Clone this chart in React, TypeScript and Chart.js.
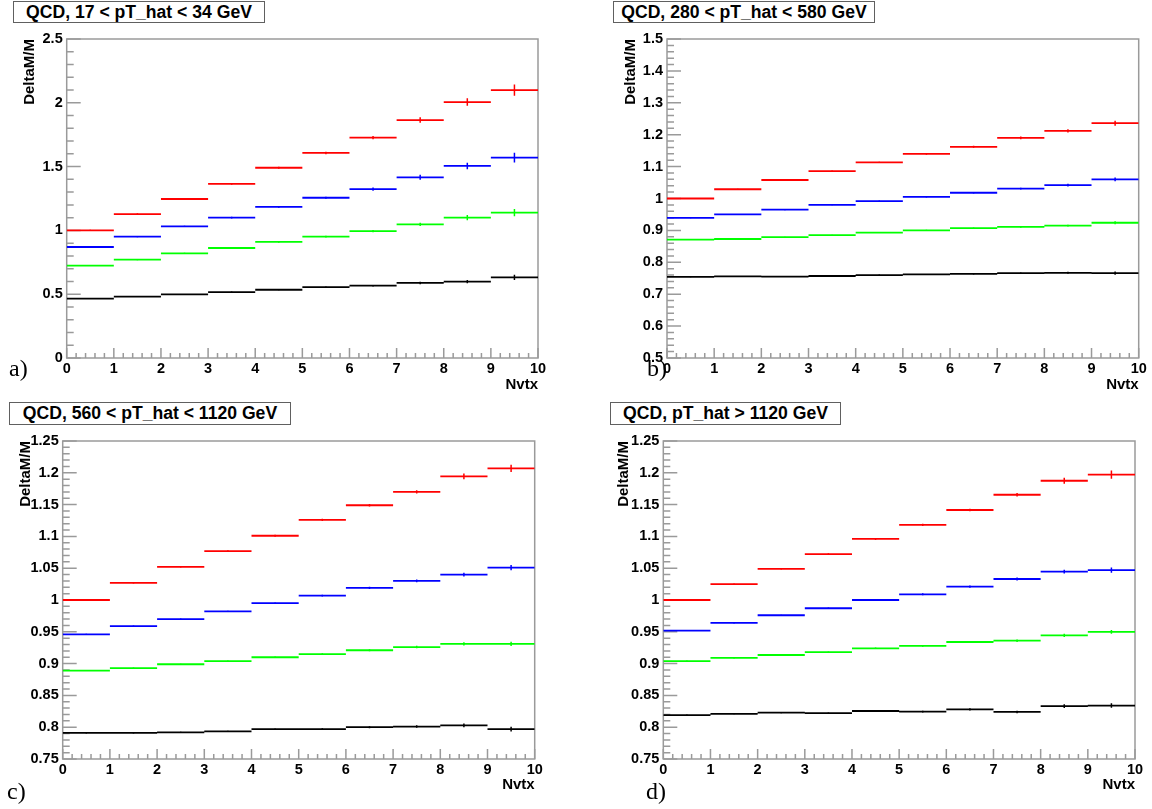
import React, { useEffect, useRef } from "react";
import { Chart, registerables } from "chart.js";

Chart.register(...registerables);

// ---------- data ----------
const BIN_EDGES = [0, 1, 2, 3, 4, 5, 6, 7, 8, 9, 10];
const X_AXIS_TITLE = "Nvtx";
const Y_AXIS_TITLE = "DeltaM/M";
const PANEL_TITLES = [
  "QCD, 17 < pT_hat < 34 GeV",
  "QCD, 280 < pT_hat < 580 GeV",
  "QCD, 560 < pT_hat < 1120 GeV",
  "QCD, pT_hat > 1120 GeV",
];
const PANEL_LETTERS = ["a)", "b)", "c)", "d)"];

// panel a: 17 < pT_hat < 34 GeV
const A_RED = [1.0, 1.128, 1.246, 1.364, 1.491, 1.607, 1.727, 1.865, 2.006, 2.1];
const A_BLUE = [0.87, 0.951, 1.032, 1.1, 1.185, 1.256, 1.324, 1.416, 1.505, 1.57];
const A_GREEN = [0.724, 0.771, 0.82, 0.862, 0.91, 0.951, 0.995, 1.047, 1.1, 1.139];
const A_BLACK = [0.465, 0.481, 0.499, 0.517, 0.535, 0.556, 0.567, 0.588, 0.598, 0.632];
const A_RED_ERR = [0.005, 0.006, 0.006, 0.007, 0.008, 0.01, 0.013, 0.022, 0.029, 0.044];
const A_BLUE_ERR = [0.004, 0.005, 0.005, 0.006, 0.007, 0.008, 0.013, 0.02, 0.026, 0.038];
const A_GREEN_ERR = [0.003, 0.004, 0.004, 0.005, 0.006, 0.007, 0.009, 0.013, 0.021, 0.029];
const A_BLACK_ERR = [0.003, 0.003, 0.003, 0.004, 0.004, 0.005, 0.006, 0.01, 0.013, 0.02];

// panel b: 280 < pT_hat < 580 GeV
const B_RED = [1.0, 1.029, 1.058, 1.086, 1.113, 1.14, 1.162, 1.19, 1.212, 1.236];
const B_BLUE = [0.939, 0.95, 0.965, 0.98, 0.992, 1.005, 1.018, 1.031, 1.042, 1.06];
const B_GREEN = [0.871, 0.873, 0.879, 0.885, 0.893, 0.9, 0.907, 0.911, 0.915, 0.924];
const B_BLACK = [0.754, 0.756, 0.755, 0.757, 0.76, 0.762, 0.764, 0.766, 0.767, 0.766];
const B_RED_ERR = [0.001, 0.0015, 0.0015, 0.002, 0.002, 0.0025, 0.003, 0.004, 0.005, 0.008];
const B_BLUE_ERR = [0.001, 0.001, 0.0015, 0.0015, 0.002, 0.002, 0.0025, 0.003, 0.004, 0.006];
const B_GREEN_ERR = [0.001, 0.001, 0.001, 0.0015, 0.0015, 0.002, 0.002, 0.003, 0.003, 0.005];
const B_BLACK_ERR = [0.001, 0.001, 0.001, 0.001, 0.0015, 0.0015, 0.002, 0.002, 0.003, 0.005];

// panel c: 560 < pT_hat < 1120 GeV
const C_RED = [1.0, 1.027, 1.052, 1.077, 1.101, 1.126, 1.149, 1.17, 1.1945, 1.207];
const C_BLUE = [0.946, 0.959, 0.97, 0.982, 0.995, 1.007, 1.019, 1.03, 1.04, 1.051];
const C_GREEN = [0.889, 0.893, 0.899, 0.904, 0.91, 0.915, 0.921, 0.926, 0.931, 0.931];
const C_BLACK = [0.791, 0.791, 0.792, 0.7935, 0.797, 0.797, 0.8, 0.801, 0.803, 0.797];
const C_RED_ERR = [0.0008, 0.001, 0.001, 0.0012, 0.0014, 0.0016, 0.002, 0.0026, 0.0045, 0.0058];
const C_BLUE_ERR = [0.0008, 0.0008, 0.001, 0.001, 0.0012, 0.0014, 0.0018, 0.0022, 0.003, 0.0042];
const C_GREEN_ERR = [0.0008, 0.0008, 0.0008, 0.001, 0.001, 0.0012, 0.0015, 0.002, 0.0026, 0.0035];
const C_BLACK_ERR = [0.0008, 0.0008, 0.0008, 0.001, 0.001, 0.0012, 0.0015, 0.002, 0.003, 0.0037];

// panel d: pT_hat > 1120 GeV
const D_RED = [1.0, 1.025, 1.049, 1.072, 1.096, 1.118, 1.1415, 1.1655, 1.1875, 1.197];
const D_BLUE = [0.952, 0.964, 0.976, 0.987, 1.0, 1.009, 1.021, 1.033, 1.0445, 1.047];
const D_GREEN = [0.904, 0.909, 0.9135, 0.918, 0.924, 0.928, 0.934, 0.936, 0.9445, 0.95];
const D_BLACK = [0.819, 0.821, 0.823, 0.822, 0.8255, 0.8245, 0.828, 0.824, 0.833, 0.834];
const D_RED_ERR = [0.001, 0.001, 0.0012, 0.0014, 0.0016, 0.0018, 0.002, 0.0027, 0.0047, 0.0065];
const D_BLUE_ERR = [0.0008, 0.001, 0.001, 0.0012, 0.0014, 0.0016, 0.0018, 0.0022, 0.003, 0.0042];
const D_GREEN_ERR = [0.0008, 0.0008, 0.001, 0.001, 0.0012, 0.0014, 0.0016, 0.002, 0.0026, 0.003];
const D_BLACK_ERR = [0.0008, 0.0008, 0.001, 0.001, 0.0012, 0.0014, 0.0016, 0.002, 0.003, 0.0036];

// ---------- styles ----------
const SANS = "'Liberation Sans', Arial, Helvetica, sans-serif";
const SERIF = "'Liberation Serif', 'Times New Roman', Times, serif";
const RED = "#ff0000";
const BLUE = "#0000ff";
const GREEN = "#00ff00";
const BLACK = "#000000";
const AXIS_GRAY = "#9a9a9a";

type Series = { color: string; values: number[]; errors: number[] };
type PanelSpec = {
  title: string;
  letter: string;
  left: number;
  top: number;
  width: number;
  height: number;
  pad: { left: number; top: number; right: number; bottom: number };
  yWidth: number;
  xHeight: number;
  yMin: number;
  yMax: number;
  yStep: number;
  yMinor: number;
  box: { left: number; top: number; width: number; height: number };
  letterPos: { left: number; top: number };
  series: Series[];
};

const PANELS: PanelSpec[] = [
  {
    title: PANEL_TITLES[0],
    letter: PANEL_LETTERS[0],
    left: 0, top: 0, width: 576, height: 404,
    pad: { left: 21, top: 39, right: 38, bottom: 10.5 },
    yWidth: 45.7, xHeight: 35.5,
    yMin: 0, yMax: 2.5, yStep: 0.5, yMinor: 0.1,
    box: { left: 13, top: 1, width: 252, height: 22 },
    letterPos: { left: 9, top: 356 },
    series: [
      { color: RED, values: A_RED, errors: A_RED_ERR },
      { color: BLUE, values: A_BLUE, errors: A_BLUE_ERR },
      { color: GREEN, values: A_GREEN, errors: A_GREEN_ERR },
      { color: BLACK, values: A_BLACK, errors: A_BLACK_ERR },
    ],
  },
  {
    title: PANEL_TITLES[1],
    letter: PANEL_LETTERS[1],
    left: 576, top: 0, width: 576, height: 404,
    pad: { left: 45.5, top: 39, right: 13.3, bottom: 10.5 },
    yWidth: 45.5, xHeight: 35.5,
    yMin: 0.5, yMax: 1.5, yStep: 0.1, yMinor: 0.02,
    box: { left: 613, top: 1, width: 262, height: 22 },
    letterPos: { left: 647, top: 356 },
    series: [
      { color: RED, values: B_RED, errors: B_RED_ERR },
      { color: BLUE, values: B_BLUE, errors: B_BLUE_ERR },
      { color: GREEN, values: B_GREEN, errors: B_GREEN_ERR },
      { color: BLACK, values: B_BLACK, errors: B_BLACK_ERR },
    ],
  },
  {
    title: PANEL_TITLES[2],
    letter: PANEL_LETTERS[2],
    left: 0, top: 404, width: 576, height: 405,
    pad: { left: 17, top: 37, right: 41.3, bottom: 15 },
    yWidth: 45.7, xHeight: 35,
    yMin: 0.75, yMax: 1.25, yStep: 0.05, yMinor: 0.01,
    box: { left: 9, top: 402, width: 282, height: 23 },
    letterPos: { left: 7, top: 779 },
    series: [
      { color: RED, values: C_RED, errors: C_RED_ERR },
      { color: BLUE, values: C_BLUE, errors: C_BLUE_ERR },
      { color: GREEN, values: C_GREEN, errors: C_GREEN_ERR },
      { color: BLACK, values: C_BLACK, errors: C_BLACK_ERR },
    ],
  },
  {
    title: PANEL_TITLES[3],
    letter: PANEL_LETTERS[3],
    left: 576, top: 404, width: 576, height: 405,
    pad: { left: 39, top: 37, right: 17, bottom: 15 },
    yWidth: 48.3, xHeight: 35,
    yMin: 0.75, yMax: 1.25, yStep: 0.05, yMinor: 0.01,
    box: { left: 610, top: 402, width: 231, height: 23 },
    letterPos: { left: 646, top: 779 },
    series: [
      { color: RED, values: D_RED, errors: D_RED_ERR },
      { color: BLUE, values: D_BLUE, errors: D_BLUE_ERR },
      { color: GREEN, values: D_GREEN, errors: D_GREEN_ERR },
      { color: BLACK, values: D_BLACK, errors: D_BLACK_ERR },
    ],
  },
];

// ---------- helpers ----------
function stepPoints(values: number[]) {
  const pts: { x: number; y: number | null }[] = [];
  values.forEach((v, i) => {
    pts.push({ x: BIN_EDGES[i], y: v });
    pts.push({ x: BIN_EDGES[i + 1], y: v });
    pts.push({ x: BIN_EDGES[i + 1], y: null });
  });
  return pts;
}

function errorPoints(values: number[], errors: number[]) {
  const pts: { x: number; y: number | null }[] = [];
  values.forEach((v, i) => {
    const c = (BIN_EDGES[i] + BIN_EDGES[i + 1]) / 2;
    pts.push({ x: c, y: v - errors[i] });
    pts.push({ x: c, y: v + errors[i] });
    pts.push({ x: c, y: null });
  });
  return pts;
}

function fmtTick(v: number | string) {
  return String(parseFloat(Number(v).toFixed(4)));
}

const rootAxesPlugin = {
  id: "rootAxes",
  beforeDatasetsDraw(chart: any, _args: any, opts: any) {
    const { ctx, chartArea: ca, scales } = chart;
    const xs = scales.x;
    const ys = scales.y;
    ctx.save();
    ctx.strokeStyle = AXIS_GRAY;
    ctx.lineWidth = 1.5;
    ctx.strokeRect(ca.left, ca.top, ca.right - ca.left, ca.bottom - ca.top);
    ctx.beginPath();
    const nY = Math.round((ys.max - ys.min) / opts.yMinor);
    for (let i = 0; i <= nY; i++) {
      const v = ys.min + i * opts.yMinor;
      const r = v / opts.yMajor;
      const isMajor = Math.abs(r - Math.round(r)) < 1e-6;
      const len = isMajor ? 14 : 7;
      const py = ys.getPixelForValue(v);
      ctx.moveTo(ca.left, py);
      ctx.lineTo(ca.left + len, py);
    }
    const nX = Math.round((xs.max - xs.min) / 0.2);
    for (let i = 0; i <= nX; i++) {
      const v = xs.min + i * 0.2;
      const isMajor = Math.abs(v - Math.round(v)) < 1e-6;
      const len = isMajor ? 10 : 5;
      const px = xs.getPixelForValue(v);
      ctx.moveTo(px, ca.bottom);
      ctx.lineTo(px, ca.bottom - len);
    }
    ctx.stroke();
    ctx.restore();
  },
};

function Panel({ spec }: { spec: PanelSpec }) {
  const ref = useRef<HTMLCanvasElement | null>(null);
  useEffect(() => {
    if (!ref.current) return;
    const datasets: any[] = [];
    spec.series.forEach((s) => {
      datasets.push({
        data: stepPoints(s.values),
        borderColor: s.color,
        backgroundColor: s.color,
        borderWidth: 1.8,
        pointRadius: 0,
        spanGaps: false,
        fill: false,
      });
      datasets.push({
        data: errorPoints(s.values, s.errors),
        borderColor: s.color,
        backgroundColor: s.color,
        borderWidth: 1.5,
        pointRadius: 0,
        spanGaps: false,
        fill: false,
      });
    });
    const tickFont = { family: SANS, weight: "bold" as const, size: 14.5 };
    const titleFont = { family: SANS, weight: "bold" as const, size: 15 };
    const chart = new Chart(ref.current, {
      type: "line",
      data: { datasets },
      plugins: [rootAxesPlugin as any],
      options: {
        responsive: false,
        animation: false,
        events: [],
        layout: { padding: spec.pad },
        elements: { line: { tension: 0, borderCapStyle: "butt" } },
        plugins: {
          legend: { display: false },
          tooltip: { enabled: false },
          rootAxes: { yMajor: spec.yStep, yMinor: spec.yMinor },
        } as any,
        scales: {
          x: {
            type: "linear",
            min: 0,
            max: 10,
            offset: false,
            afterFit: (s: any) => {
              s.height = spec.xHeight;
            },
            grid: { display: false, drawTicks: false },
            border: { display: false },
            ticks: {
              stepSize: 1,
              autoSkip: false,
              maxRotation: 0,
              padding: 2,
              color: "#000",
              font: tickFont,
              callback: (v: any) => fmtTick(v),
            },
            title: {
              display: true,
              text: X_AXIS_TITLE,
              align: "end",
              padding: 0,
              color: "#000",
              font: titleFont,
            },
          },
          y: {
            type: "linear",
            min: spec.yMin,
            max: spec.yMax,
            afterFit: (s: any) => {
              s.width = spec.yWidth;
            },
            grid: { display: false, drawTicks: false },
            border: { display: false },
            ticks: {
              stepSize: spec.yStep,
              autoSkip: false,
              padding: 4,
              color: "#000",
              font: tickFont,
              callback: (v: any) => fmtTick(v),
            },
            title: {
              display: true,
              text: Y_AXIS_TITLE,
              align: "end",
              padding: 0,
              color: "#000",
              font: titleFont,
            },
          },
        },
      } as any,
    });
    return () => chart.destroy();
  }, [spec]);

  return (
    <canvas
      ref={ref}
      width={spec.width}
      height={spec.height}
      style={{
        position: "absolute",
        left: spec.left,
        top: spec.top,
        width: spec.width,
        height: spec.height,
      }}
    />
  );
}

export default function App() {
  return (
    <div
      style={{
        position: "fixed",
        left: 0,
        top: 0,
        width: 1152,
        height: 809,
        background: "#ffffff",
        overflow: "hidden",
      }}
    >
      {PANELS.map((p) => (
        <Panel key={p.title} spec={p} />
      ))}
      {PANELS.map((p) => (
        <div
          key={p.title + "-box"}
          style={{
            position: "absolute",
            left: p.box.left,
            top: p.box.top,
            width: p.box.width,
            height: p.box.height,
            boxSizing: "border-box",
            border: "1px solid #606060",
            background: "#ffffff",
            display: "flex",
            alignItems: "center",
            justifyContent: "center",
            fontFamily: SANS,
            fontWeight: "bold",
            fontSize: 17.6,
            color: "#000",
            whiteSpace: "nowrap",
          }}
        >
          {p.title}
        </div>
      ))}
      {PANELS.map((p) => (
        <div
          key={p.title + "-letter"}
          style={{
            position: "absolute",
            left: p.letterPos.left,
            top: p.letterPos.top,
            fontFamily: SERIF,
            fontSize: 24,
            lineHeight: "24px",
            color: "#000",
          }}
        >
          {p.letter}
        </div>
      ))}
    </div>
  );
}
